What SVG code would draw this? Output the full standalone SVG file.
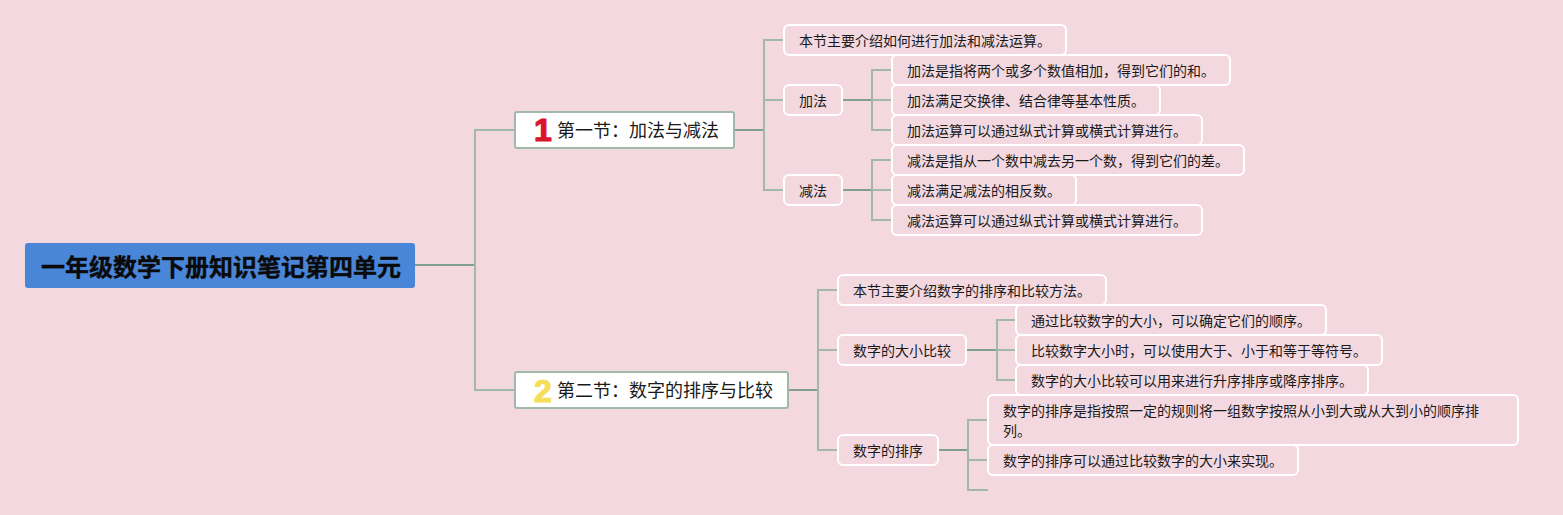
<svg xmlns="http://www.w3.org/2000/svg" width="1563" height="515" viewBox="0 0 1563 515">
<style>
text{font-family:"Noto Sans CJK SC","Noto Sans",sans-serif;fill:#1a1a1a}
.l{fill:#f3d8e0;stroke:#fff;stroke-width:2}
.s{fill:#fff;stroke:#a3b8ad;stroke-width:2}
.t{font-size:14px}
.h{font-size:18px}
.c path{fill:none;stroke:#a3b8ad;stroke-width:2}
.c .m{stroke:#7fa08f}
.n{font-size:32px;font-weight:700;font-family:"Liberation Sans",sans-serif;stroke-width:1.2;stroke-linejoin:round}
</style>
<rect width="1563" height="515" fill="#f3d8e0"/>
<g id="connectors" class="c">
<path class="m" d="M415 265H475"/>
<path d="M515 130H475V390H515"/>
<path class="m" d="M734 130H764"/>
<path d="M784 40H764V190H784M764 100H784"/>
<path class="m" d="M843 100H872"/>
<path d="M892 70H872V130H892M872 100H892"/>
<path class="m" d="M843 190H872"/>
<path d="M892 160H872V220H892M872 190H892"/>
<path class="m" d="M788 390H818"/>
<path d="M838 290H818V450H838M818 350H838"/>
<path class="m" d="M967 350H997"/>
<path d="M1016 320H997V380H1016M997 350H1016"/>
<path class="m" d="M939 450H968"/>
<path d="M988 420H968V490H988M968 460H988"/>
</g>
<g id="root"><rect x="25" y="243" width="390" height="45" rx="3" fill="#4a86d8"/><text x="41" y="276" font-size="24" font-weight="700" style="fill:#0a0a0a;stroke:#0a0a0a;stroke-width:.4">一年级数学下册知识笔记第四单元</text></g>
<g id="s1"><rect class="s" x="515" y="112" width="219" height="36" rx="2"/><text class="n" x="534" y="141" style="fill:#d8142f;stroke:#d8142f">1</text><text class="h" x="557" y="137">第一节&#65306;加法与减法</text></g>
<g id="s2"><rect class="s" x="515" y="372" width="273" height="36" rx="2"/><text class="n" x="534" y="402" style="fill:#f5de5a;stroke:#f5de5a">2</text><text class="h" x="557" y="397">第二节&#65306;数字的排序与比较</text></g>
<g id="a0"><rect class="l" x="784" y="25" width="282" height="30" rx="5"/><text class="t" x="799" y="46">本节主要介绍如何进行加法和减法运算。</text></g>
<g id="a1"><rect class="l" x="784" y="85" width="58" height="30" rx="5"/><text class="t" x="799" y="106">加法</text></g>
<g id="a2"><rect class="l" x="784" y="175" width="58" height="30" rx="5"/><text class="t" x="799" y="196">减法</text></g>
<g id="a11"><rect class="l" x="892" y="55" width="338" height="30" rx="5"/><text class="t" x="907" y="76">加法是指将两个或多个数值相加&#65292;得到它们的和。</text></g>
<g id="a12"><rect class="l" x="892" y="85" width="268" height="30" rx="5"/><text class="t" x="907" y="106">加法满足交换律、结合律等基本性质。</text></g>
<g id="a13"><rect class="l" x="892" y="115" width="310" height="30" rx="5"/><text class="t" x="907" y="136">加法运算可以通过纵式计算或横式计算进行。</text></g>
<g id="a21"><rect class="l" x="892" y="145" width="352" height="30" rx="5"/><text class="t" x="907" y="166">减法是指从一个数中减去另一个数&#65292;得到它们的差。</text></g>
<g id="a22"><rect class="l" x="892" y="175" width="184" height="30" rx="5"/><text class="t" x="907" y="196">减法满足减法的相反数。</text></g>
<g id="a23"><rect class="l" x="892" y="205" width="310" height="30" rx="5"/><text class="t" x="907" y="226">减法运算可以通过纵式计算或横式计算进行。</text></g>
<g id="b0"><rect class="l" x="838" y="275" width="268" height="30" rx="5"/><text class="t" x="853" y="296">本节主要介绍数字的排序和比较方法。</text></g>
<g id="b1"><rect class="l" x="838" y="335" width="128" height="30" rx="5"/><text class="t" x="853" y="356">数字的大小比较</text></g>
<g id="b2"><rect class="l" x="838" y="435" width="100" height="30" rx="5"/><text class="t" x="853" y="456">数字的排序</text></g>
<g id="b11"><rect class="l" x="1016" y="305" width="310" height="30" rx="5"/><text class="t" x="1031" y="326">通过比较数字的大小&#65292;可以确定它们的顺序。</text></g>
<g id="b12"><rect class="l" x="1016" y="335" width="366" height="30" rx="5"/><text class="t" x="1031" y="356">比较数字大小时&#65292;可以使用大于、小于和等于等符号。</text></g>
<g id="b13"><rect class="l" x="1016" y="365" width="352" height="30" rx="5"/><text class="t" x="1031" y="386">数字的大小比较可以用来进行升序排序或降序排序。</text></g>
<g id="b21"><rect class="l" x="988" y="395" width="530" height="50" rx="5"/><text class="t" x="1003" y="416">数字的排序是指按照一定的规则将一组数字按照从小到大或从大到小的顺序排</text><text class="t" x="1003" y="436">列。</text></g>
<g id="b22"><rect class="l" x="988" y="445" width="310" height="30" rx="5"/><text class="t" x="1003" y="466">数字的排序可以通过比较数字的大小来实现。</text></g>
</svg>
